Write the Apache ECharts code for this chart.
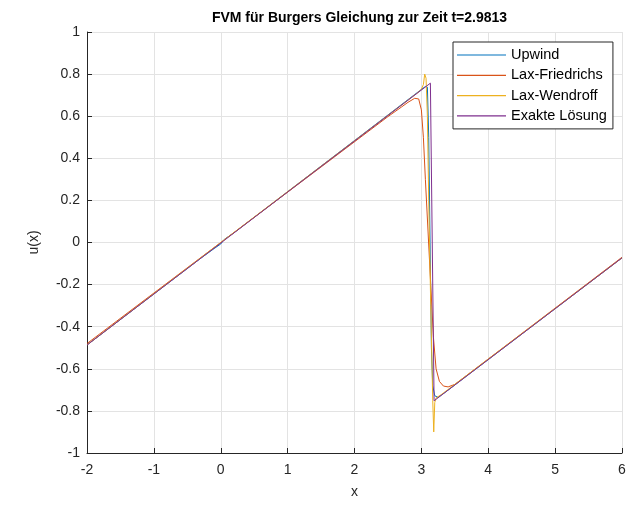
<!DOCTYPE html>
<html>
<head>
<meta charset="utf-8">
<script src="https://cdn.jsdelivr.net/npm/echarts@6/dist/echarts.min.js"></script>
<style>
  html, body { margin: 0; padding: 0; background: #fff; }
  #chart { width: 636px; height: 506px; }
</style>
</head>
<body>
<div id="chart"></div>
<script>
// Numerical solutions of Burgers' equation at t = 2.9813 (finite volume schemes)
const upwindX = [-2, -0.3, -0.1, 0, 0.05, 0.2, 2.9, 3.0, 3.06, 3.09, 3.11, 3.13, 3.15, 3.17, 3.2, 3.25, 3.35, 6];
const upwindY = [-0.487, -0.075, -0.029, -0.007, 0.014, 0.047, 0.703, 0.727, 0.741, 0.738, 0.5, 0.0, -0.5, -0.68, -0.728, -0.736, -0.713, -0.073];

const laxFriedrichsX = [-2, 0, 2.5, 2.7, 2.8, 2.9, 2.96, 3.0, 3.03, 3.06, 3.1, 3.14, 3.18, 3.22, 3.27, 3.33, 3.4, 3.5, 3.65, 6];
const laxFriedrichsY = [-0.48, 0.0, 0.598, 0.643, 0.666, 0.685, 0.682, 0.63, 0.5, 0.3, 0.05, -0.2, -0.45, -0.6, -0.66, -0.682, -0.686, -0.674, -0.638, -0.07];

const laxWendroffX = [-2, 0, 2.95, 3.0, 3.03, 3.05, 3.07, 3.09, 3.11, 3.14, 3.17, 3.185, 3.2, 3.22, 3.3, 6];
const laxWendroffY = [-0.487, 0.0, 0.713, 0.728, 0.75, 0.80, 0.78, 0.6, 0.2, -0.3, -0.75, -0.90, -0.76, -0.738, -0.722, -0.073];

const exactX = [-2, 3.135, 3.19, 6];
const exactY = [-0.487, 0.757, -0.752, -0.073];

const seriesNames = ['Upwind', 'Lax-Friedrichs', 'Lax-Wendroff', 'Exakte Lösung'];
const seriesColors = ['#0072BD', '#D95319', '#EDB120', '#7E2F8E'];

const xTicks = [-2, -1, 0, 1, 2, 3, 4, 5, 6];
const yTicks = [-1, -0.8, -0.6, -0.4, -0.2, 0, 0.2, 0.4, 0.6, 0.8, 1];

const titleText = 'FVM für Burgers Gleichung zur Zeit t=2.9813';
const xLabel = 'x';
const yLabel = 'u(x)';

function pairs(xs, ys) {
  return xs.map((x, i) => [x, ys[i]]);
}

const allX = [upwindX, laxFriedrichsX, laxWendroffX, exactX];
const allY = [upwindY, laxFriedrichsY, laxWendroffY, exactY];

const FONT = '"Liberation Sans", Arial, sans-serif';
const TEXT = '#262626';

const chart = echarts.init(document.getElementById('chart'), null, { renderer: 'canvas' });

chart.setOption({
  animation: false,
  backgroundColor: '#ffffff',
  title: {
    text: titleText,
    left: 354.5,
    textAlign: 'center',
    top: 6,
    textStyle: { fontFamily: FONT, fontSize: 14, fontWeight: 'bold', color: '#000' }
  },
  legend: {
    orient: 'vertical',
    left: 453,
    top: 42,
    width: 160,
    padding: [5, 6, 5, 4],
    itemGap: 4.3,
    itemWidth: 49,
    itemHeight: 1.2,
    icon: 'rect',
    backgroundColor: '#ffffff',
    borderColor: TEXT,
    borderWidth: 1,
    borderRadius: 0,
    data: seriesNames,
    textStyle: { fontFamily: FONT, fontSize: 14.5, lineHeight: 16, color: '#000' }
  },
  grid: { left: 87, right: 14, top: 32, bottom: 53, containLabel: false },
  xAxis: {
    type: 'value',
    min: xTicks[0],
    max: xTicks[xTicks.length - 1],
    interval: 1,
    name: xLabel,
    nameLocation: 'middle',
    nameGap: 32,
    nameTextStyle: { fontFamily: FONT, fontSize: 14, color: TEXT },
    axisLine: { onZero: false, lineStyle: { color: TEXT, width: 1 } },
    axisTick: { inside: true, length: 5, lineStyle: { color: TEXT } },
    axisLabel: {
      fontFamily: FONT, fontSize: 14, color: TEXT, margin: 10,
      formatter: v => String(v)
    },
    splitLine: { show: true, lineStyle: { color: '#e3e3e3', width: 1 } }
  },
  yAxis: {
    type: 'value',
    min: yTicks[0],
    max: yTicks[yTicks.length - 1],
    interval: 0.2,
    name: yLabel,
    nameLocation: 'middle',
    nameGap: 46,
    nameTextStyle: { fontFamily: FONT, fontSize: 14, color: TEXT },
    axisLine: { onZero: false, lineStyle: { color: TEXT, width: 1 } },
    axisTick: { inside: true, length: 5, lineStyle: { color: TEXT } },
    axisLabel: {
      fontFamily: FONT, fontSize: 14, color: TEXT, margin: 7,
      formatter: v => String(Math.round(v * 10) / 10)
    },
    splitLine: { show: true, lineStyle: { color: '#e3e3e3', width: 1 } }
  },
  series: seriesNames.map((name, i) => ({
    name: name,
    type: 'line',
    data: pairs(allX[i], allY[i]),
    showSymbol: false,
    symbol: 'none',
    itemStyle: { color: seriesColors[i] },
    lineStyle: { color: seriesColors[i], width: 1 },
    z: 2 + i
  }))
});
</script>
</body>
</html>
